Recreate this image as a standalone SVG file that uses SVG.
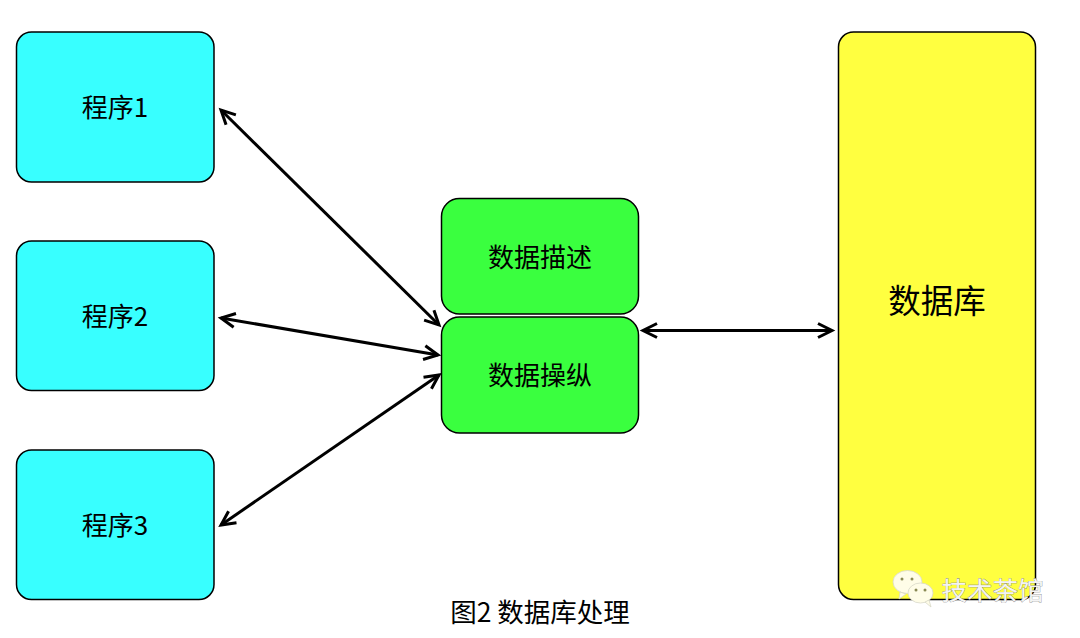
<svg xmlns="http://www.w3.org/2000/svg" width="1080" height="638" viewBox="0 0 1080 638">
<style>
text{font-family:"Noto Sans CJK SC","Liberation Sans",sans-serif;fill:#000;text-anchor:middle}
.n{stroke:#000;stroke-width:1.5}
.c{fill:#38ffff}.g{fill:#3aff3f}.y{fill:#ffff40}
.l{font-size:26px}
.cn{fill:none;stroke:#000;stroke-width:3;marker-start:url(#a);marker-end:url(#a)}
.w{fill:#fffde8;stroke:#d8d8c8;stroke-width:.8}
</style>
<defs>
<marker id="a" viewBox="-18 -10 22 20" markerUnits="userSpaceOnUse" markerWidth="22" markerHeight="20" orient="auto-start-reverse" refX="0" refY="0">
<path d="M-14,-7 L0,0 L-14,7" fill="none" stroke="#000" stroke-width="3" stroke-linejoin="miter"/>
</marker>
</defs>
<rect width="1080" height="638" fill="#fff"/>
<g id="program1"><rect class="n c" x="16.500" y="32" width="197.500" height="150" rx="15"/><text class="l" x="115" y="117">程序1</text></g>
<g id="program2"><rect class="n c" x="16.500" y="241" width="197.500" height="149.500" rx="15"/><text class="l" x="115" y="326">程序2</text></g>
<g id="program3"><rect class="n c" x="16.500" y="450" width="197.500" height="149.500" rx="15"/><text class="l" x="115" y="535">程序3</text></g>
<g id="describe"><rect class="n g" x="441.500" y="198.500" width="197" height="115.500" rx="18"/><text class="l" x="540" y="267">数据描述</text></g>
<g id="manipulate"><rect class="n g" x="441.500" y="317" width="197" height="116" rx="18"/><text class="l" x="540" y="385">数据操纵</text></g>
<g id="database"><rect class="n y" x="838.500" y="32" width="197" height="567.500" rx="15"/><text x="937" y="313" font-size="32.500">数据库</text></g>
<g id="connectors">
<line class="cn" x1="221" y1="110" x2="439" y2="325"/>
<line class="cn" x1="221" y1="318" x2="438" y2="355"/>
<line class="cn" x1="221" y1="525" x2="439" y2="375"/>
<line class="cn" x1="643" y1="330.500" x2="832" y2="330.500"/>
</g>
<text id="caption" x="540" y="622" font-size="26.500">图2 数据库处理</text>
<g id="watermark">
<ellipse class="w" cx="907.500" cy="582" rx="14.500" ry="11.500"/>
<path class="w" d="M900,592 L899,599 L906,594 Z"/>
<ellipse class="w" cx="920.500" cy="593" rx="12.500" ry="10"/>
<path class="w" d="M925,602 L931,607 L929,600 Z"/>
<circle cx="902" cy="579" r="1.500" fill="#8a8a55"/><circle cx="912" cy="579" r="1.500" fill="#8a8a55"/>
<circle cx="916" cy="590" r="1.500" fill="#8a8a55"/><circle cx="925" cy="590" r="1.500" fill="#8a8a55"/>
<text x="992.500" y="600" font-size="25.500" style="fill:#f4f4f4;stroke:#777;stroke-width:.6;paint-order:stroke">技术茶馆</text>
</g>
</svg>
